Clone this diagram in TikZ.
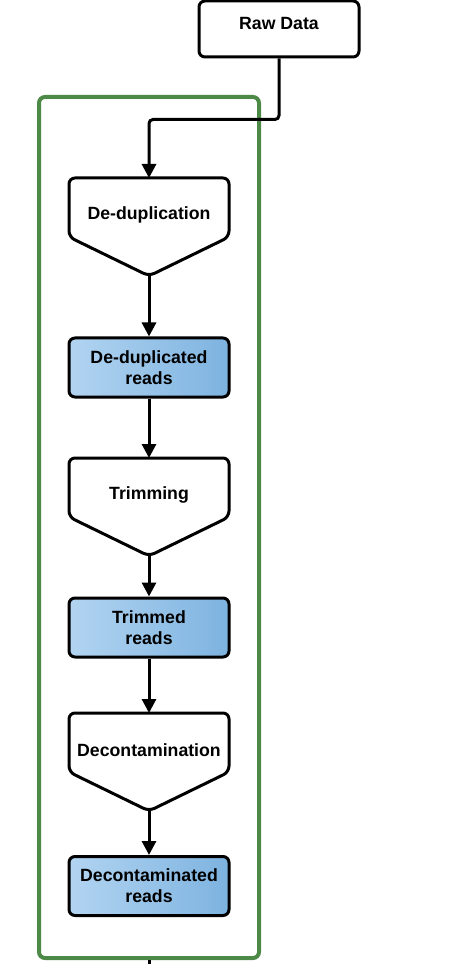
\documentclass[tikz,border=0pt]{standalone}
\usepackage{fontspec}
\setmainfont{Liberation Sans}
\usetikzlibrary{arrows.meta, calc}

\definecolor{framegreen}{HTML}{4E8A47}
\definecolor{readsleft}{HTML}{B2D4F1}
\definecolor{readsright}{HTML}{7DB3E0}

\tikzset{
  every node/.style={font=\fontsize{8.85}{10.5}\selectfont\bfseries, align=center},
  source/.style={draw, line width=1.5pt, rounded corners=3pt,
                 minimum width=80pt, minimum height=28pt},
  reads/.style={draw, line width=1.5pt, rounded corners=3pt,
                minimum width=80pt, minimum height=29.5pt,
                left color=readsleft, right color=readsright},
  proc/.style={inner sep=0pt},
  procline/.style={draw, line width=1.5pt, rounded corners=3pt, line join=round},
  flow/.style={line width=1.5pt, -{Triangle[length=7pt,width=7pt]}},
  frame/.style={draw=framegreen, line width=2pt, rounded corners=3pt,
                minimum width=110pt, minimum height=430.5pt}
}

\begin{document}
\begin{tikzpicture}[x=0.5pt, y=-0.5pt]
  \useasboundingbox (0,0) rectangle (454,972);

  \node [frame] (pipeline) at (149,527.5) {};

  \node [source, text depth=6pt] (rawdata) at (279,29) {Raw Data};

  % processing steps
  \node [proc] (dedup)  at (149,215) {De-duplication};
  \node [proc] (trim)   at (149,495) {Trimming};
  \node [proc] (decont) at (149,750) {Decontamination};

  \foreach \n in {dedup,trim,decont}{
    \draw [procline] ($(\n)+(-80,-37)$) coordinate (\n-nw)
      -- ($(\n)+(0,-37)$) coordinate (\n-top)
      -- ($(\n)+(80,-37)$) -- ($(\n)+(80,22)$)
      -- ($(\n)+(0,61)$) coordinate (\n-tip)
      -- ($(\n)+(-80,22)$) -- cycle;
    };

  % intermediate reads
  \node [reads] (dedupreads)  at (149,367.5) {De-duplicated\\reads};
  \node [reads] (trimreads)   at (149,627.5) {Trimmed\\reads};
  \node [reads] (decontreads) at (149,886)   {Decontaminated\\reads};

  \draw [flow, rounded corners=2pt] (rawdata.south) -- ++(0,61) -| (dedup-top);
  \draw [flow] (dedup-tip)  -- (dedupreads.north);
  \draw [flow] (dedupreads) -- (trim-top);
  \draw [flow] (trim-tip)   -- (trimreads.north);
  \draw [flow] (trimreads)  -- (decont-top);
  \draw [flow] (decont-tip) -- (decontreads.north);

  \coordinate (exit) at (149,964);
  \draw [line width=1.5pt] (pipeline.south) -- (exit);
\end{tikzpicture}
\end{document}
